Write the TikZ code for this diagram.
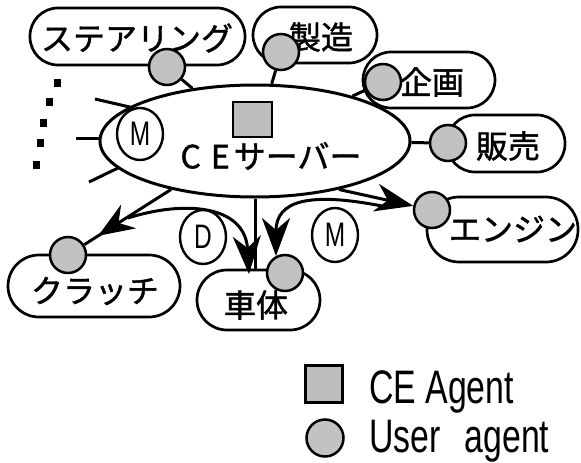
\documentclass[tikz,border=0pt]{standalone}
\usepackage{fontspec}
\newfontfamily\jp{Noto Sans CJK JP}[FakeBold=1.3]
\newfontfamily\narrow{Liberation Sans}[FakeStretch=0.72]
\usetikzlibrary{arrows.meta,decorations.markings,shapes.geometric}
\tikzset{
  lab/.style={draw,line width=2.7pt,fill=white,rounded corners=#1,inner sep=0pt},
  ua/.style={circle,draw,line width=2.5pt,fill=black!24,minimum size=36pt,inner sep=0pt},
  jt/.style={font=\jp\fontsize{32}{32}\selectfont,inner sep=0pt},
  msgc/.style={draw,ellipse,line width=2.4pt,fill=white,minimum width=46pt,minimum height=54pt,inner sep=0pt,font=\narrow\fontsize{34}{34}\selectfont},
  conn/.style={line width=3pt},
  bigtip/.style={-{Stealth[length=38pt,width=28pt,inset=12pt]}},
  arr/.style={conn,bigtip},
  legt/.style={anchor=base west,inner sep=0pt,font=\narrow\fontsize{47}{47}\selectfont}
}
\begin{document}
\begin{tikzpicture}[x=1pt,y=-1pt]
\useasboundingbox (0,0) rectangle (581,463);
% label boxes
\node[lab=28pt,minimum width=215pt,minimum height=57pt] (bSt) at (137.5,36.5) {};
\node[lab=28pt,minimum width=124pt,minimum height=56pt] (bSe) at (315,35) {};
\node[lab=28pt,minimum width=132pt,minimum height=56pt] (bKi) at (429,80) {};
\node[lab=28pt,minimum width=118pt,minimum height=57pt] (bHa) at (506,143.5) {};
\node[lab=32pt,minimum width=151pt,minimum height=65pt] (bEn) at (502.5,229.5) {};
\node[lab=31pt,minimum width=172pt,minimum height=62pt] (bKu) at (94,286) {};
\node[lab=30pt,minimum width=123pt,minimum height=60pt] (bSh) at (258.5,300) {};
% label texts
\node[jt] (tSt) at (137,38) {ステアリング};
\node[jt] (tSe) at (321,37) {製造};
\node[jt] (tKi) at (432,82) {企画};
\node[jt] (tHa) at (508,146) {販売};
\node[jt] (tEn) at (513,229) {エンジン};
\node[jt] (tKu) at (95,291) {クラッチ};
\node[jt] (tSh) at (256,305) {車体};
% server
\node[draw,ellipse,line width=3pt,fill=white,minimum width=310pt,minimum height=112pt,inner sep=0pt] (srv) at (255,141) {};
\node[draw,line width=2.5pt,fill=black!26,minimum width=39pt,minimum height=35pt,inner sep=0pt] (ce) at (252.5,119.5) {};
\node[jt] (tSrv) at (271,156) {C\hspace{10pt}E\hspace{4pt}サーバー};
\node[msgc,minimum height=52pt] (mA) at (140,134) {M};
% stubs and dots
\coordinate (s1a) at (95,99);  \coordinate (s1b) at (134,108);
\coordinate (s2a) at (76,138); \coordinate (s2b) at (101,138);
\coordinate (s3a) at (89,182); \coordinate (s3b) at (118,168);
\draw[conn] (s1a) -- (s1b);
\draw[conn] (s2a) -- (s2b);
\draw[conn] (s3a) -- (s3b);
\foreach \x/\y in {57/83,49/102,43/123,40/143,36/165}
  \fill (\x-3.5,\y-4) rectangle (\x+3.5,\y+4);
% user agents
\node[ua] (uSt) at (167,67) {};
\node[ua] (uSe) at (281,52) {};
\node[ua] (uKi) at (383,82) {};
\node[ua] (uHa) at (448,143) {};
\node[ua] (uEn) at (432,210) {};
\node[ua] (uKu) at (68,255) {};
\node[ua] (uSh) at (285,273) {};
% connections
\draw[conn] (uSt) -- (srv);
\draw[conn] (uSe) -- (srv);
\draw[conn] (uKi) -- (srv);
\draw[conn] (uHa) -- (srv);
\draw[conn] (srv.south) -- (srv.south |- bSh.north);
\draw[conn,postaction={decorate},decoration={markings,mark=at position 0.84 with {\arrow{Stealth[length=36pt,width=28pt,inset=12pt]}}}] (srv.210) -- (uKu);
\draw[arr] (srv.330) -- (uEn);
\coordinate (mS) at (382,206);
\draw[arr] (mS) .. controls (310,192) and (276,200) .. (uSh.118);
\coordinate (dS) at (128,218);
\coordinate (dE) at (249,274);
\draw[arr] (dS) .. controls (185,200) and (245,205) .. (dE);
\node[msgc] (dC) at (203,237) {D};
\node[msgc] (mB) at (335,235) {M};
% legend
\node[draw,line width=2.5pt,fill=black!26,minimum size=37pt,inner sep=0pt] (lgSq) at (324,384) {};
\node[legt] (lgT1) at (369,403) {CE Agent};
\node[ua,minimum size=37pt] (lgC) at (325,438) {};
\node[legt] (lgT2) at (369,452) {User\hspace{24pt}agent};
\end{tikzpicture}
\end{document}
